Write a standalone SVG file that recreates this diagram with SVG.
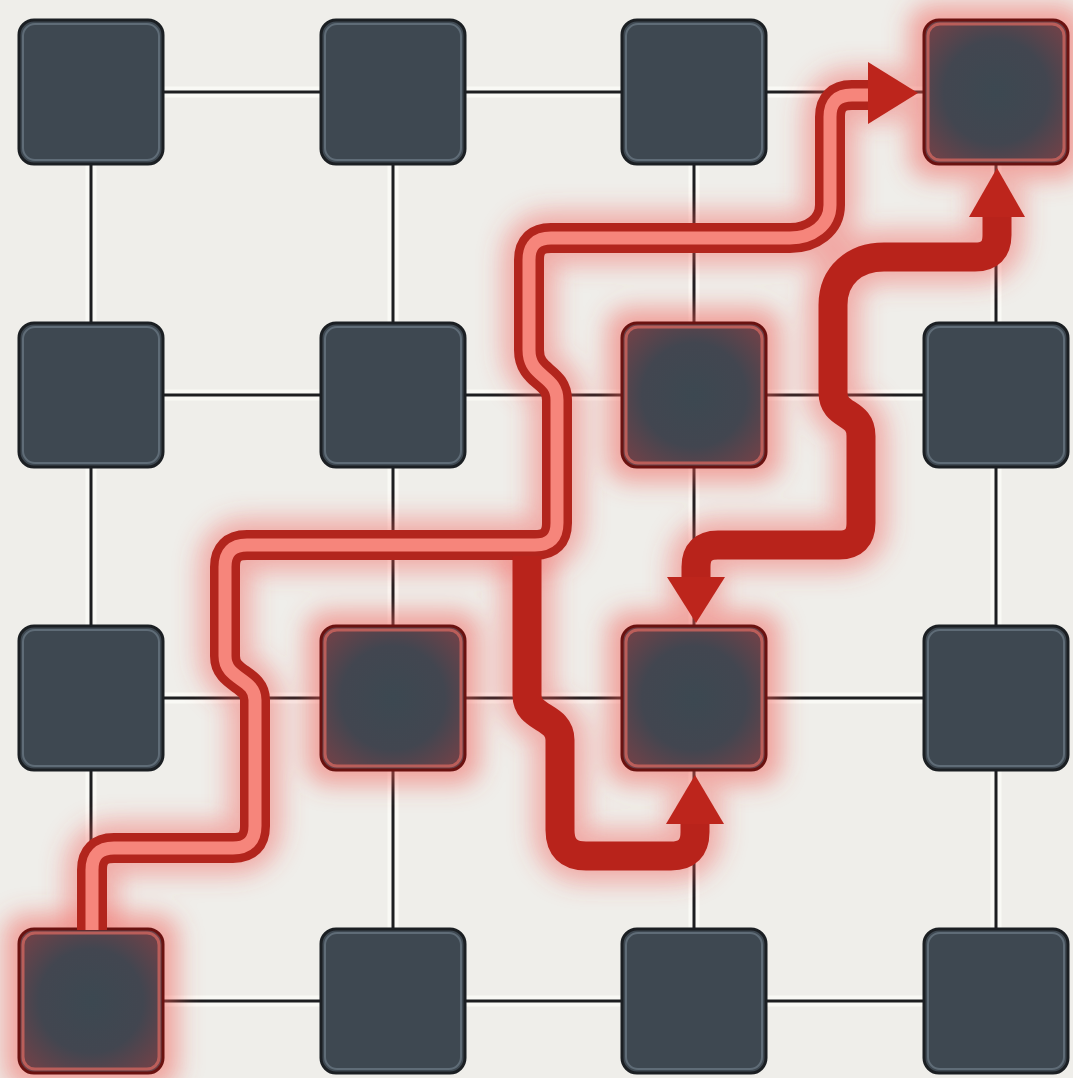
<svg xmlns="http://www.w3.org/2000/svg" width="1073" height="1078" viewBox="0 0 1073 1078">
<defs>
<style>
.gl{stroke:#1d1e20;stroke-width:3;fill:none}
.halo{stroke:#fbfbf8;stroke-width:11;fill:none;opacity:.8}
.nd{fill:#3e4851;stroke:#1b1f23;stroke-width:3}
.ndi{fill:none;stroke:#5f6c77;stroke-width:2}
.hn{fill:url(#hg);stroke:#6a1210;stroke-width:3}
.hni{fill:none;stroke:#c9635d;stroke-width:3;opacity:.85}
.tubeo{fill:none;stroke:#b2251d;stroke-width:30;stroke-linejoin:round;stroke-linecap:butt}
.tubei{fill:none;stroke:#f6857b;stroke-width:13;stroke-linejoin:round;stroke-linecap:butt}
.thick{fill:none;stroke:#b8231b;stroke-width:29;stroke-linejoin:round;stroke-linecap:butt}
.ah{fill:#bd251c}
.pglow{fill:none;stroke:#f2524c;stroke-width:54;stroke-linejoin:round;opacity:.42}
.nglow{fill:#f2554f;opacity:.5}
</style>
<radialGradient id="hg" cx="50%" cy="50%" r="60%">
<stop offset="0" stop-color="#3c4851"/>
<stop offset="0.6" stop-color="#424650"/>
<stop offset="1" stop-color="#6b4249"/>
</radialGradient>
<filter id="blur" x="-30%" y="-30%" width="160%" height="160%">
<feGaussianBlur stdDeviation="12"/>
</filter>
</defs>
<rect width="1073" height="1078" fill="#efeeea"/>

<g id="grid-lines">
<path class="halo" d="M91 92H996M91 395H996M91 698H996M91 1001H996M91 92V1001M393 92V1001M694 92V1001M996 92V1001"/>
<path class="gl" d="M91 92H996M91 395H996M91 698H996M91 1001H996M91 92V1001M393 92V1001M694 92V1001M996 92V1001"/>
</g>

<g id="glows" filter="url(#blur)">
<path class="pglow" d="M92 930V870Q92 848 114 848H233Q255 848 255 826V700C255 678 225 680 225 656V567Q225 545 247 545H535Q557 545 557 523V400C557 375 529 378 529 350V260Q529 238 551 238H790C812 238 830 225 830 205V117Q830 95 852 95H905"/>
<path class="pglow" d="M527 555V695C527 720 560 715 560 740V830Q560 856 586 856H671Q695 856 695 832V790"/>
<path class="pglow" d="M997 185V235Q997 257 975 257H884C855 257 833 275 833 305V392C833 418 861 410 861 436V523Q861 545 839 545H718Q696 545 696 567V610"/>
<rect class="nglow" x="909" y="5" width="174" height="174" rx="22"/>
<rect class="nglow" x="607" y="308" width="174" height="174" rx="22"/>
<rect class="nglow" x="306" y="611" width="174" height="174" rx="22"/>
<rect class="nglow" x="607" y="611" width="174" height="174" rx="22"/>
<rect class="nglow" x="4" y="914" width="174" height="174" rx="22"/>
</g>

<g id="n-r0c0"><rect class="nd" x="19" y="20" width="144" height="144" rx="15"/><rect class="ndi" x="23" y="24" width="136" height="136" rx="12"/></g>
<g id="n-r0c1"><rect class="nd" x="321" y="20" width="144" height="144" rx="15"/><rect class="ndi" x="325" y="24" width="136" height="136" rx="12"/></g>
<g id="n-r0c2"><rect class="nd" x="622" y="20" width="144" height="144" rx="15"/><rect class="ndi" x="626" y="24" width="136" height="136" rx="12"/></g>
<g id="n-r0c3"><rect class="hn" x="924" y="20" width="144" height="144" rx="15"/><rect class="hni" x="928" y="24" width="136" height="136" rx="12"/></g>

<g id="n-r1c0"><rect class="nd" x="19" y="323" width="144" height="144" rx="15"/><rect class="ndi" x="23" y="327" width="136" height="136" rx="12"/></g>
<g id="n-r1c1"><rect class="nd" x="321" y="323" width="144" height="144" rx="15"/><rect class="ndi" x="325" y="327" width="136" height="136" rx="12"/></g>
<g id="n-r1c2"><rect class="hn" x="622" y="323" width="144" height="144" rx="15"/><rect class="hni" x="626" y="327" width="136" height="136" rx="12"/></g>
<g id="n-r1c3"><rect class="nd" x="924" y="323" width="144" height="144" rx="15"/><rect class="ndi" x="928" y="327" width="136" height="136" rx="12"/></g>

<g id="n-r2c0"><rect class="nd" x="19" y="626" width="144" height="144" rx="15"/><rect class="ndi" x="23" y="630" width="136" height="136" rx="12"/></g>
<g id="n-r2c1"><rect class="hn" x="321" y="626" width="144" height="144" rx="15"/><rect class="hni" x="325" y="630" width="136" height="136" rx="12"/></g>
<g id="n-r2c2"><rect class="hn" x="622" y="626" width="144" height="144" rx="15"/><rect class="hni" x="626" y="630" width="136" height="136" rx="12"/></g>
<g id="n-r2c3"><rect class="nd" x="924" y="626" width="144" height="144" rx="15"/><rect class="ndi" x="928" y="630" width="136" height="136" rx="12"/></g>

<g id="n-r3c0"><rect class="hn" x="19" y="929" width="144" height="144" rx="15"/><rect class="hni" x="23" y="933" width="136" height="136" rx="12"/></g>
<g id="n-r3c1"><rect class="nd" x="321" y="929" width="144" height="144" rx="15"/><rect class="ndi" x="325" y="933" width="136" height="136" rx="12"/></g>
<g id="n-r3c2"><rect class="nd" x="622" y="929" width="144" height="144" rx="15"/><rect class="ndi" x="626" y="933" width="136" height="136" rx="12"/></g>
<g id="n-r3c3"><rect class="nd" x="924" y="929" width="144" height="144" rx="15"/><rect class="ndi" x="928" y="933" width="136" height="136" rx="12"/></g>

<g id="connectors">
<g id="path-a">
<path class="tubeo" d="M92 930V870Q92 848 114 848H233Q255 848 255 826V700C255 678 225 680 225 656V567Q225 545 247 545H535Q557 545 557 523V400C557 375 529 378 529 350V260Q529 238 551 238H790C812 238 830 225 830 205V117Q830 95 852 95H874"/>
<path class="tubei" d="M92 930V870Q92 848 114 848H233Q255 848 255 826V700C255 678 225 680 225 656V567Q225 545 247 545H535Q557 545 557 523V400C557 375 529 378 529 350V260Q529 238 551 238H790C812 238 830 225 830 205V117Q830 95 852 95H872"/>
<polygon class="ah" points="868,62 918,93 868,124"/>
</g>
<g id="path-b">
<path class="thick" d="M527 556V695C527 720 560 715 560 740V830Q560 856 586 856H671Q695 856 695 832V820"/>
<polygon class="ah" points="666,824 695,775 724,824"/>
</g>
<g id="path-c">
<path class="thick" d="M997 213V235Q997 257 975 257H884C855 257 833 275 833 305V392C833 418 861 410 861 436V523Q861 545 839 545H718Q696 545 696 567V580"/>
<polygon class="ah" points="969,217 997,168 1025,217"/>
<polygon class="ah" points="667,577 696,623 725,577"/>
</g>
</g>
</svg>
